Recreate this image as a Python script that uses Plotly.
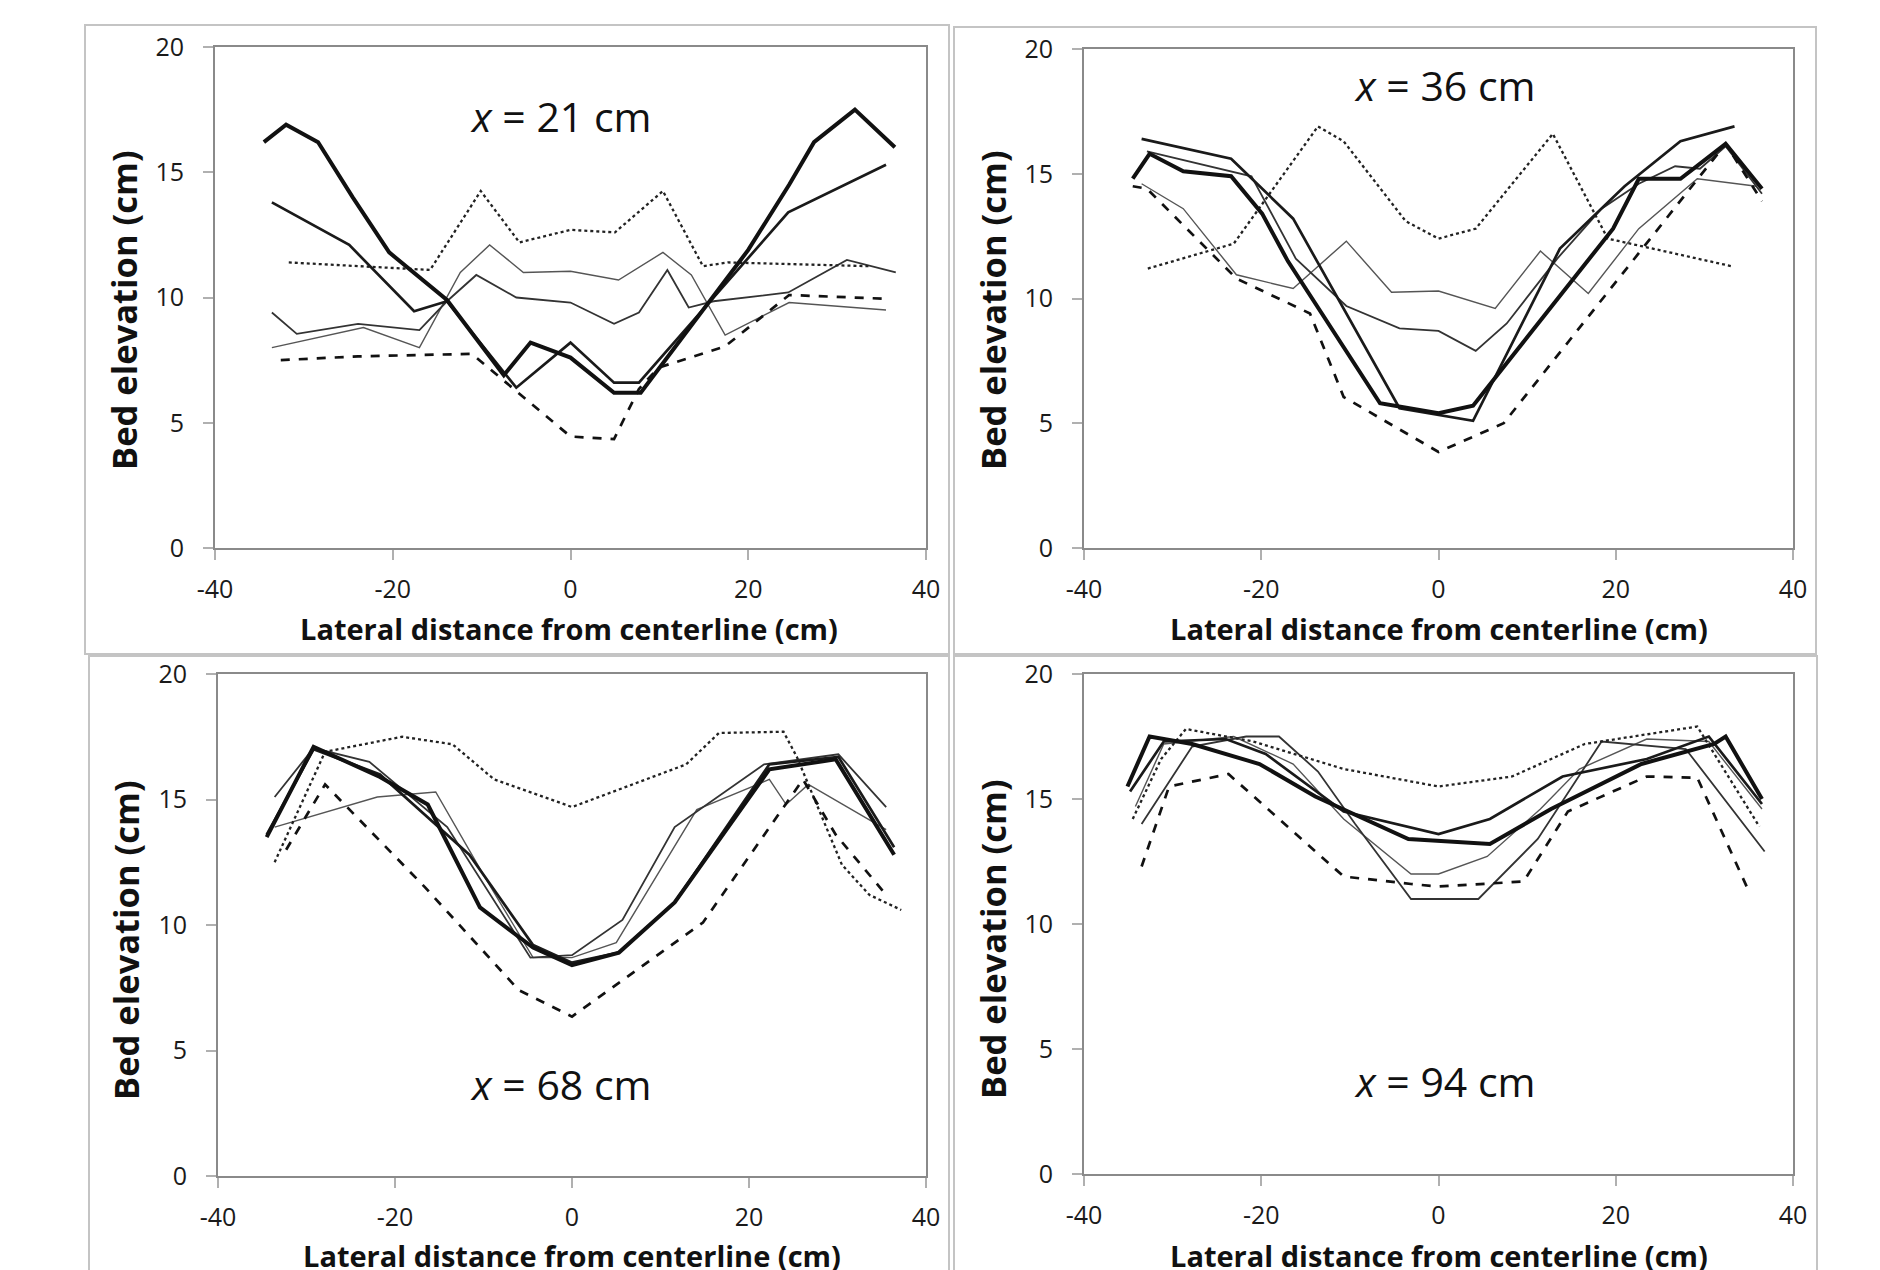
import plotly.graph_objects as go

W, H = 1880, 1270

# ---------------- data ----------------
# Panel 1: x = 21 cm
p1_thick_x = [-34.5, -32.0, -28.4, -24.5, -20.4, -13.9, -7.5, -4.5, 0, 4.9, 7.9, 20.0, 24.6, 27.4, 32.0, 36.5]
p1_thick_y = [16.2, 16.9, 16.2, 14.0, 11.8, 9.9, 6.9, 8.2, 7.6, 6.2, 6.2, 11.9, 14.5, 16.2, 17.5, 16.0]
p1_med_x = [-33.6, -24.9, -17.6, -13.9, -6.1, 0, 4.9, 7.7, 24.5, 35.5]
p1_med_y = [13.8, 12.1, 9.45, 9.85, 6.4, 8.2, 6.6, 6.6, 13.4, 15.3]
p1_thin_x = [-33.6, -30.8, -23.9, -17.0, -13.9, -10.6, -6.1, 0, 4.9, 7.7, 10.9, 13.3, 16.1, 24.5, 31.1, 36.6]
p1_thin_y = [9.4, 8.55, 8.95, 8.7, 9.85, 10.9, 10.0, 9.8, 8.95, 9.4, 11.1, 9.6, 9.85, 10.2, 11.5, 11.0]
p1_gray_x = [-33.6, -23.3, -17.0, -12.4, -9.1, -5.3, 0, 5.4, 10.4, 13.6, 17.4, 24.6, 35.5]
p1_gray_y = [8.0, 8.8, 8.0, 11.0, 12.1, 11.0, 11.05, 10.7, 11.8, 10.9, 8.5, 9.8, 9.5]
p1_dot_x = [-31.7, -15.8, -10.1, -5.75, 0, 5.0, 10.4, 14.9, 17.7, 33.6]
p1_dot_y = [11.4, 11.1, 14.25, 12.2, 12.7, 12.6, 14.25, 11.25, 11.4, 11.25]
p1_dash_x = [-32.6, -23.9, -11.1, -7.6, 0, 4.9, 7.7, 9.9, 17.4, 24.6, 35.5]
p1_dash_y = [7.5, 7.65, 7.75, 6.7, 4.45, 4.35, 6.35, 7.2, 8.05, 10.1, 9.95]

# Panel 2: x = 36 cm
p2_thick_x = [-34.5, -32.6, -28.8, -23.4, -19.9, -17.0, -6.6, 0, 3.9, 19.7, 22.6, 27.3, 32.4, 36.5]
p2_thick_y = [14.8, 15.8, 15.1, 14.9, 13.4, 11.5, 5.8, 5.4, 5.7, 12.8, 14.8, 14.8, 16.2, 14.4]
p2_med_x = [-33.5, -23.4, -16.4, -10.7, -4.4, 3.9, 13.7, 21.0, 27.3, 33.4]
p2_med_y = [16.4, 15.6, 13.2, 9.6, 5.6, 5.1, 12.0, 14.5, 16.3, 16.9]
p2_thin_x = [-32.9, -21.1, -16.1, -10.4, -4.4, 0, 4.2, 7.7, 13.4, 18.4, 22.6, 26.7, 29.5, 32.4, 36.5]
p2_thin_y = [15.9, 14.9, 11.6, 9.7, 8.8, 8.7, 7.9, 9.0, 11.6, 13.6, 14.6, 15.3, 15.2, 16.1, 14.2]
p2_gray_x = [-33.5, -28.8, -22.8, -16.4, -10.4, -5.3, 0, 6.4, 11.5, 16.9, 22.6, 29.2, 35.9]
p2_gray_y = [14.6, 13.6, 10.95, 10.4, 12.3, 10.25, 10.3, 9.6, 11.9, 10.2, 12.8, 14.8, 14.5]
p2_dot_x = [-32.8, -23.1, -13.6, -10.7, -3.7, 0, 4.2, 12.9, 19.1, 33.0]
p2_dot_y = [11.2, 12.2, 16.9, 16.3, 13.1, 12.4, 12.8, 16.6, 12.4, 11.3]
p2_dash_x = [-34.5, -32.9, -22.8, -14.5, -10.7, 0, 7.35, 32.4, 36.5]
p2_dash_y = [14.5, 14.4, 10.8, 9.4, 6.05, 3.85, 5.0, 16.2, 13.9]

# Panel 3: x = 68 cm
p3_thick_x = [-34.5, -29.2, -21.7, -16.3, -10.4, -4.4, 0, 5.3, 11.6, 22.3, 29.8, 36.4]
p3_thick_y = [13.5, 17.1, 15.9, 14.8, 10.7, 9.1, 8.4, 8.9, 10.9, 16.2, 16.6, 12.8]
p3_med_x = [-34.5, -29.2, -21.7, -11.6, -4.4, 0, 5.3, 11.6, 22.3, 30.1, 36.4]
p3_med_y = [13.6, 17.0, 16.0, 12.8, 9.2, 8.5, 8.9, 10.9, 16.4, 16.7, 13.1]
p3_thin_x = [-33.6, -29.2, -22.9, -14.1, -4.7, 0, 5.7, 11.6, 21.7, 30.1, 35.5]
p3_thin_y = [15.1, 17.05, 16.5, 13.9, 8.7, 8.8, 10.2, 13.9, 16.4, 16.8, 14.7]
p3_gray_x = [-33.6, -22.0, -15.4, -10.0, -4.4, 0, 5.0, 14.1, 22.3, 24.2, 26.7, 35.5]
p3_gray_y = [13.9, 15.1, 15.3, 12.0, 8.7, 8.7, 9.3, 14.6, 15.8, 14.8, 15.6, 13.8]
p3_dot_x = [-33.6, -27.9, -19.2, -13.5, -8.8, 0, 12.9, 16.6, 23.9, 25.4, 30.5, 33.6, 37.2]
p3_dot_y = [12.5, 16.9, 17.5, 17.2, 15.8, 14.7, 16.4, 17.65, 17.7, 16.7, 12.4, 11.2, 10.6]
p3_dash_x = [-32.3, -27.9, -16.6, -6.0, 0, 14.8, 26.1, 29.8, 35.5]
p3_dash_y = [13.0, 15.6, 11.5, 7.4, 6.35, 10.1, 15.8, 13.6, 11.2]

# Panel 4: x = 94 cm
p4_thick_x = [-35.1, -32.6, -27.8, -20.2, -13.9, -3.4, 5.8, 12.7, 22.9, 31.1, 32.4, 36.5]
p4_thick_y = [15.5, 17.5, 17.2, 16.4, 15.1, 13.4, 13.2, 14.6, 16.4, 17.2, 17.5, 15.0]
p4_med_x = [-34.8, -31.0, -24.0, -19.5, -10.7, 0, 5.8, 14.0, 23.5, 30.5, 36.5]
p4_med_y = [15.3, 17.3, 17.4, 16.8, 14.5, 13.6, 14.2, 15.9, 16.6, 17.5, 14.8]
p4_thin_x = [-33.5, -27.8, -21.7, -18.0, -13.6, -9.4, -3.1, 4.5, 11.2, 18.4, 27.9, 36.8]
p4_thin_y = [14.0, 17.1, 17.5, 17.5, 16.1, 14.0, 11.0, 11.0, 13.4, 17.3, 17.0, 12.9]
p4_gray_x = [-34.2, -31.0, -23.1, -16.4, -10.7, -3.1, 0, 5.5, 11.5, 15.9, 23.5, 30.5, 36.5]
p4_gray_y = [14.7, 17.2, 17.5, 16.4, 14.2, 12.0, 12.0, 12.7, 14.6, 16.2, 17.4, 17.3, 14.6]
p4_dot_x = [-34.5, -31.3, -28.5, -20.9, -10.7, 0, 8.3, 16.5, 29.2, 36.2]
p4_dot_y = [14.2, 16.6, 17.8, 17.3, 16.2, 15.5, 15.9, 17.2, 17.9, 13.9]
p4_dash_x = [-33.5, -30.4, -23.7, -10.7, -3.1, 0, 9.6, 14.6, 23.5, 29.2, 34.9]
p4_dash_y = [12.3, 15.5, 16.0, 11.9, 11.6, 11.5, 11.7, 14.5, 15.9, 15.85, 11.4]

panel_labels = ["21", "36", "68", "94"]
x_ticks = [-40, -20, 0, 20, 40]
x_ticktext = ["-40", "-20", "0", "20", "40"]
y_ticks = [0, 5, 10, 15, 20]
y_ticktext = ["0", "5", "10", "15", "20"]
x_title = "Lateral distance from centerline (cm)"
y_title = "Bed elevation (cm)"

# ---------------- styling ----------------
styles = {
    "thick": dict(color="#111111", width=4.0, dash="solid"),
    "med": dict(color="#1a1a1a", width=2.7, dash="solid"),
    "thin": dict(color="#333333", width=1.8, dash="solid"),
    "gray": dict(color="#555555", width=1.4, dash="solid"),
    "dot": dict(color="#222222", width=2.3, dash="dot"),
    "dash": dict(color="#111111", width=2.7, dash="dash"),
}

panels = [
    {"thick": (p1_thick_x, p1_thick_y), "med": (p1_med_x, p1_med_y), "thin": (p1_thin_x, p1_thin_y),
     "gray": (p1_gray_x, p1_gray_y), "dot": (p1_dot_x, p1_dot_y), "dash": (p1_dash_x, p1_dash_y)},
    {"thick": (p2_thick_x, p2_thick_y), "med": (p2_med_x, p2_med_y), "thin": (p2_thin_x, p2_thin_y),
     "gray": (p2_gray_x, p2_gray_y), "dot": (p2_dot_x, p2_dot_y), "dash": (p2_dash_x, p2_dash_y)},
    {"thick": (p3_thick_x, p3_thick_y), "med": (p3_med_x, p3_med_y), "thin": (p3_thin_x, p3_thin_y),
     "gray": (p3_gray_x, p3_gray_y), "dot": (p3_dot_x, p3_dot_y), "dash": (p3_dash_x, p3_dash_y)},
    {"thick": (p4_thick_x, p4_thick_y), "med": (p4_med_x, p4_med_y), "thin": (p4_thin_x, p4_thin_y),
     "gray": (p4_gray_x, p4_gray_y), "dot": (p4_dot_x, p4_dot_y), "dash": (p4_dash_x, p4_dash_y)},
]

# plot-area pixel boxes in the reference: (left, right, top, bottom)
boxes = [(214, 925, 46, 547), (1083, 1792, 48, 547), (217, 925, 673, 1175), (1083, 1792, 673, 1173)]
outer = [(84, 948, 24, 653), (953, 1815, 26, 653), (88, 948, 655, 1290), (953, 1816, 655, 1290)]
label_pos = [(560, 115), (1444, 84), (560, 1083), (1444, 1080)]
xtitle_pos = [(568, 628), (1438, 628), (571, 1254), (1438, 1254)]
ytitle_pos = [(122, 309), (991, 309), (124, 939), (991, 938)]

OFF = 7  # page body margin compensation


def px(x):
    return (x - OFF) / W


def py(y):
    return 1 - (y - OFF) / H


fig = go.Figure()
layout = dict(
    width=W, height=H, margin=dict(l=0, r=0, t=0, b=0, pad=0, autoexpand=False),
    paper_bgcolor="white", plot_bgcolor="white", showlegend=False,
    font=dict(family="Open Sans", color="#222222"),
)
annotations = []
shapes = []
for i, (pan, (l, r, t, b)) in enumerate(zip(panels, boxes)):
    k = "" if i == 0 else str(i + 1)
    for key in ["gray", "thin", "dot", "dash", "med", "thick"]:
        xs, ys = pan[key]
        fig.add_trace(go.Scatter(x=xs, y=ys, mode="lines", line=styles[key],
                                 xaxis="x" + k, yaxis="y" + k, hoverinfo="skip"))
    common = dict(showgrid=False, zeroline=False, showline=True, linecolor="#8a8a8a", linewidth=2,
                  mirror=True, ticks="outside", ticklen=10, tickwidth=2, tickcolor="#b0b0b0",
                  automargin=False,
                  tickfont=dict(family="Open Sans", size=25, color="#1a1a1a"))
    layout["xaxis" + k] = dict(common, domain=[px(l), px(r)], range=[-40, 40], tickvals=x_ticks,
                               ticktext=x_ticktext, anchor="y" + k, ticklabelstandoff=8)
    layout["yaxis" + k] = dict(common, domain=[py(b), py(t)], range=[0, 20], tickvals=y_ticks,
                               ticktext=y_ticktext, anchor="x" + k, ticklabelstandoff=14)
    lx, ly = label_pos[i]
    annotations.append(dict(x=px(lx), y=py(ly), xref="paper", yref="paper", showarrow=False,
                            text="<i>x</i> = " + panel_labels[i] + " cm",
                            font=dict(family="Open Sans", size=41, color="#111111"),
                            xanchor="center", yanchor="middle"))
    tx, ty = xtitle_pos[i]
    annotations.append(dict(x=px(tx), y=py(ty), xref="paper", yref="paper", showarrow=False,
                            text="<b>" + x_title + "</b>",
                            font=dict(family="Open Sans", size=29, color="#111111"),
                            xanchor="center", yanchor="middle"))
    yx, yy = ytitle_pos[i]
    annotations.append(dict(x=px(yx), y=py(yy), xref="paper", yref="paper", showarrow=False,
                            text="<b>" + y_title + "</b>", textangle=-90,
                            font=dict(family="Open Sans", size=34.5, color="#111111"),
                            xanchor="center", yanchor="middle"))
    ol, orr, ot, ob = outer[i]
    shapes.append(dict(type="rect", xref="paper", yref="paper", x0=px(ol), x1=px(orr),
                       y0=py(ob), y1=py(ot), line=dict(color="#c4c4c4", width=2),
                       fillcolor="rgba(0,0,0,0)", layer="below"))

layout["annotations"] = annotations
layout["shapes"] = shapes
fig.update_layout(**layout)
fig.write_html("out.html")
